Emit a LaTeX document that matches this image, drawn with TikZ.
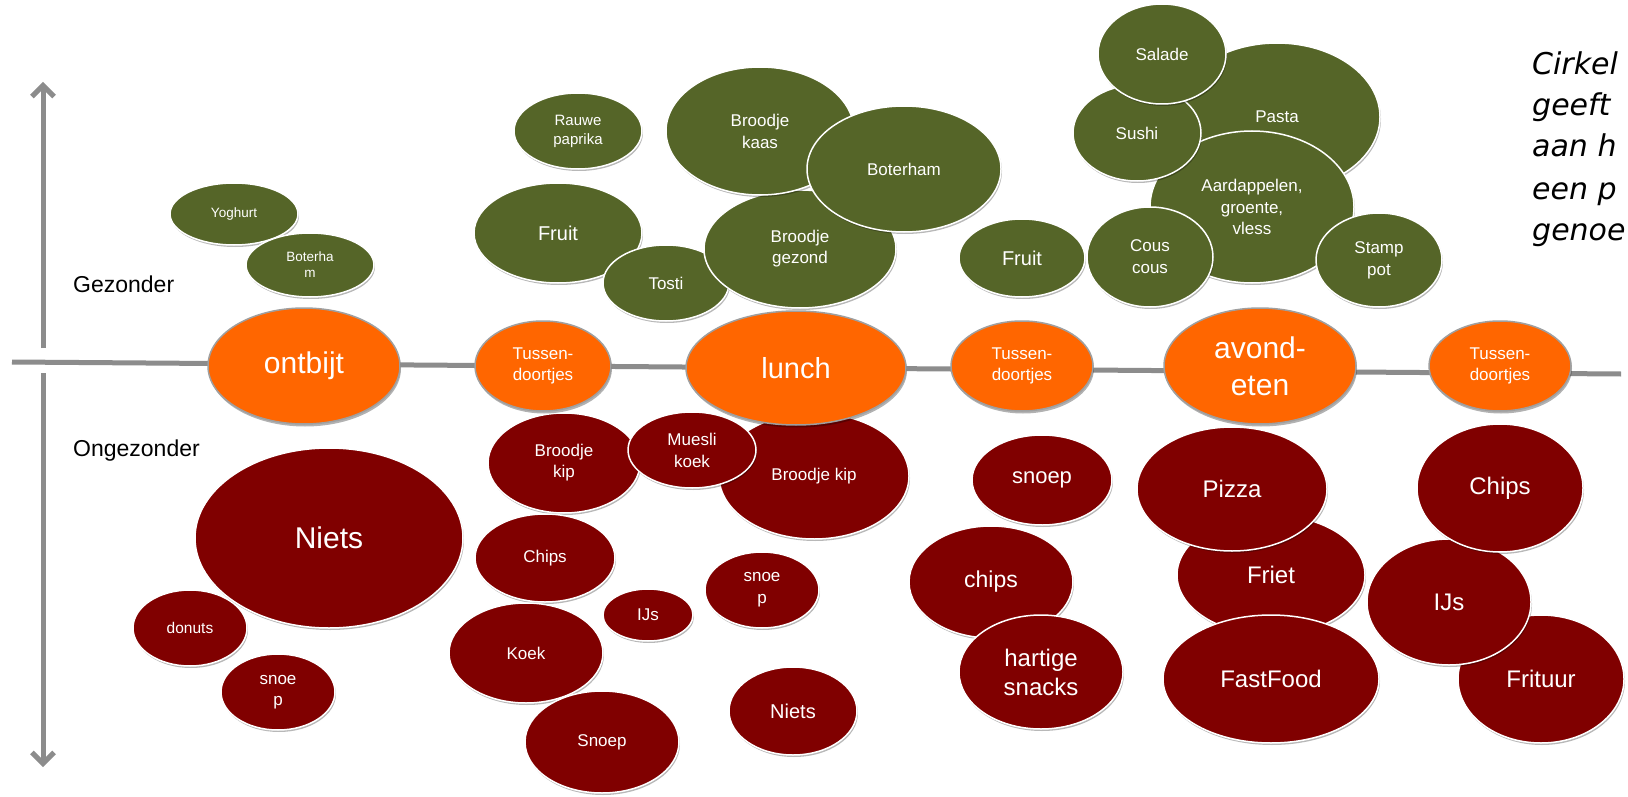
\documentclass[tikz,border=0pt]{standalone}
\usepackage{fontspec}
\setmainfont{Liberation Sans}
\newfontfamily\verd{DejaVu Sans}
\usetikzlibrary{shapes.geometric,arrows.meta,shadows}
\definecolor{myolive}{RGB}{85,101,40}
\definecolor{myred}{RGB}{128,0,0}
\definecolor{myorange}{RGB}{255,102,0}
\definecolor{axisgray}{RGB}{140,140,140}
\newcommand\fsz[2]{\fontsize{#1}{#2}\selectfont}
\tikzset{
  fs/.style 2 args={font=\fsz{#1}{#2}},
  wh/.style 2 args={minimum width=#1, minimum height=#2},
  blob/.style={ellipse, inner sep=0pt, align=center, text=white, draw=white, line width=1.5pt,
    drop shadow={shadow xshift=1pt, shadow yshift=-2pt, opacity=0.28, fill=black}},
  gblob/.style={blob, fill=myolive},
  rblob/.style={blob, fill=myred},
  oblob/.style={ellipse, inner sep=0pt, align=center, text=white, fill=myorange, draw=gray!75, line width=1.5pt,
    drop shadow={shadow xshift=1pt, shadow yshift=-2.5pt, opacity=0.3, fill=black}},
  axis/.style={draw=axisgray, line width=5pt},
  axislabel/.style={anchor=west, font=\fsz{23}{27}, text=black, inner sep=0pt},
  note/.style={anchor=base west, font=\verd\itshape\fsz{30}{41}, text=black, inner sep=0pt},
}
\begin{document}
\begin{tikzpicture}[x=1pt, y=-1pt]
\useasboundingbox (0,0) rectangle (1628,797);
\fill[white] (0,0) rectangle (1628,797);

% axes
\coordinate (upS) at (43,348);
\coordinate (upE) at (43,82);
\coordinate (dnS) at (43,373);
\coordinate (dnE) at (43,767);
\coordinate (hl) at (12,362);
\coordinate (hr) at (1621,374);
\draw[axis, -{Straight Barb[length=11pt, width=22pt]}] (upS) -- (upE);
\draw[axis, -{Straight Barb[length=11pt, width=22pt]}] (dnS) -- (dnE);
\draw[axis] (hl) -- (hr);

\node[axislabel] (gez) at (73,284) {Gezonder};
\node[axislabel] (ongez) at (73,451) {Ongezonder};

% note (runs to the right edge)
\node[note] (n1) at (1532,75) {Cirkel};
\node[note] (n2) at (1532,116) {geeft};
\node[note] (n3) at (1532,157) {aan h};
\node[note] (n4) at (1532,199) {een p};
\node[note] (n5) at (1532,240) {genoe};

% green, breakfast
\node[gblob, wh={128}{62}, fs={13.5}{16}] (yog) at (234,214) {Yoghurt};
\node[gblob, wh={128}{64}, fs={13.5}{16}] (bot1) at (310,265) {Boterha\\m};
% green, lunch
\node[gblob, wh={128}{76}, fs={15}{19}] (rauw) at (578,131) {Rauwe\\paprika};
\node[gblob, wh={168}{100}, fs={20}{24}] (fruit1) at (558,233) {Fruit};
\node[gblob, wh={126}{76}, fs={17}{21}] (tosti) at (666,283) {Tosti};
\node[gblob, wh={192}{118}, fs={17}{21}] (bgez) at (800,249) {Broodje\\gezond};
\node[gblob, wh={188}{128}, fs={17}{22}] (bkaas) at (760,131) {Broodje\\kaas};
\node[gblob, wh={194}{126}, fs={17}{21}] (bot2) at (904,169) {Boterham};
% green, dinner
\node[gblob, wh={206}{148}, fs={17}{21}] (pasta) at (1277,117) {Pasta};
\node[gblob, wh={204}{152}, fs={17}{21.5}] (aard) at (1252,207) {Aardappelen,\\groente,\\vless};
\node[gblob, wh={128}{96}, fs={17}{21}] (sushi) at (1137,133) {Sushi};
\node[gblob, wh={128}{100}, fs={17}{21}] (salade) at (1162,54) {Salade};
\node[gblob, wh={126}{100}, fs={17}{22}] (cous) at (1150,257) {Cous\\cous};
\node[gblob, wh={126}{94}, fs={17}{22}] (stamp) at (1379,260) {Stamp\\pot};
\node[gblob, wh={126}{78}, fs={20}{24}] (fruit2) at (1022,258) {Fruit};

% red, breakfast
\node[rblob, wh={114}{76}, fs={15.5}{19}] (donuts) at (190,628) {donuts};
\node[rblob, wh={268}{180}, fs={30}{36}] (niets1) at (329,538) {Niets};
\node[rblob, wh={114}{76}, fs={17}{21}] (snoep1) at (278,692) {snoe\\p};
% red, lunch
\node[rblob, wh={190}{126}, fs={17}{21}] (bkip2) at (814,476) {Broodje kip};
\node[rblob, wh={152}{100}, fs={17}{21}] (bkip1) at (564,463) {Broodje\\kip};
\node[rblob, wh={128}{76}, fs={17}{22}] (muesli) at (692,450) {Muesli\\koek};
\node[rblob, wh={140}{88}, fs={17}{21}] (chips1) at (545,558) {Chips};
\node[rblob, wh={154}{100}, fs={17}{21}] (koek) at (526,653) {Koek};
\node[rblob, wh={154}{102}, fs={17}{21}] (snoep3) at (602,742) {Snoep};
\node[rblob, wh={90}{52}, fs={17}{21}] (ijs1) at (648,615) {IJs};
\node[rblob, wh={114}{76}, fs={17}{22}] (snoep2) at (762,590) {snoe\\p};
\node[rblob, wh={128}{88}, fs={20}{24}] (niets2) at (793,711) {Niets};
% red, afternoon
\node[rblob, wh={140}{90}, fs={22}{26}] (snoep4) at (1042,480) {snoep};
\node[rblob, wh={164}{112}, fs={23}{27}] (chips2) at (991,582) {chips};
\node[rblob, wh={164}{114}, fs={24}{29}] (hartig) at (1041,672) {hartige\\snacks};
% red, dinner
\node[rblob, wh={188}{120}, fs={24}{28}] (friet) at (1271,575) {Friet};
\node[rblob, wh={190}{124}, fs={24}{28}] (pizza) at (1232,489) {Pizza};
\node[rblob, wh={216}{128}, fs={24}{28}] (fastfood) at (1271,679) {FastFood};
% red, evening
\node[rblob, wh={166}{128}, fs={24}{28}] (frituur) at (1541,679) {Frituur};
\node[rblob, wh={164}{126}, fs={24}{28}] (ijs2) at (1449,602) {IJs};
\node[rblob, wh={166}{128}, fs={24}{28}] (chips3) at (1500,488) {Chips};

% meals
\node[oblob, wh={192}{116}, fs={30}{36}] (ontbijt) at (304,366) {ontbijt};
\node[oblob, wh={136}{90}, fs={17}{21}] (tus1) at (543,366) {Tussen-\\doortjes};
\node[oblob, wh={220}{114}, fs={29}{35}] (lunch) at (796,368) {lunch};
\node[oblob, wh={142}{90}, fs={17}{21}] (tus2) at (1022,366) {Tussen-\\doortjes};
\node[oblob, wh={192}{116}, fs={30}{37}] (avond) at (1260,366) {avond-\\eten};
\node[oblob, wh={142}{90}, fs={17}{21}] (tus3) at (1500,366) {Tussen-\\doortjes};
\end{tikzpicture}
\end{document}
